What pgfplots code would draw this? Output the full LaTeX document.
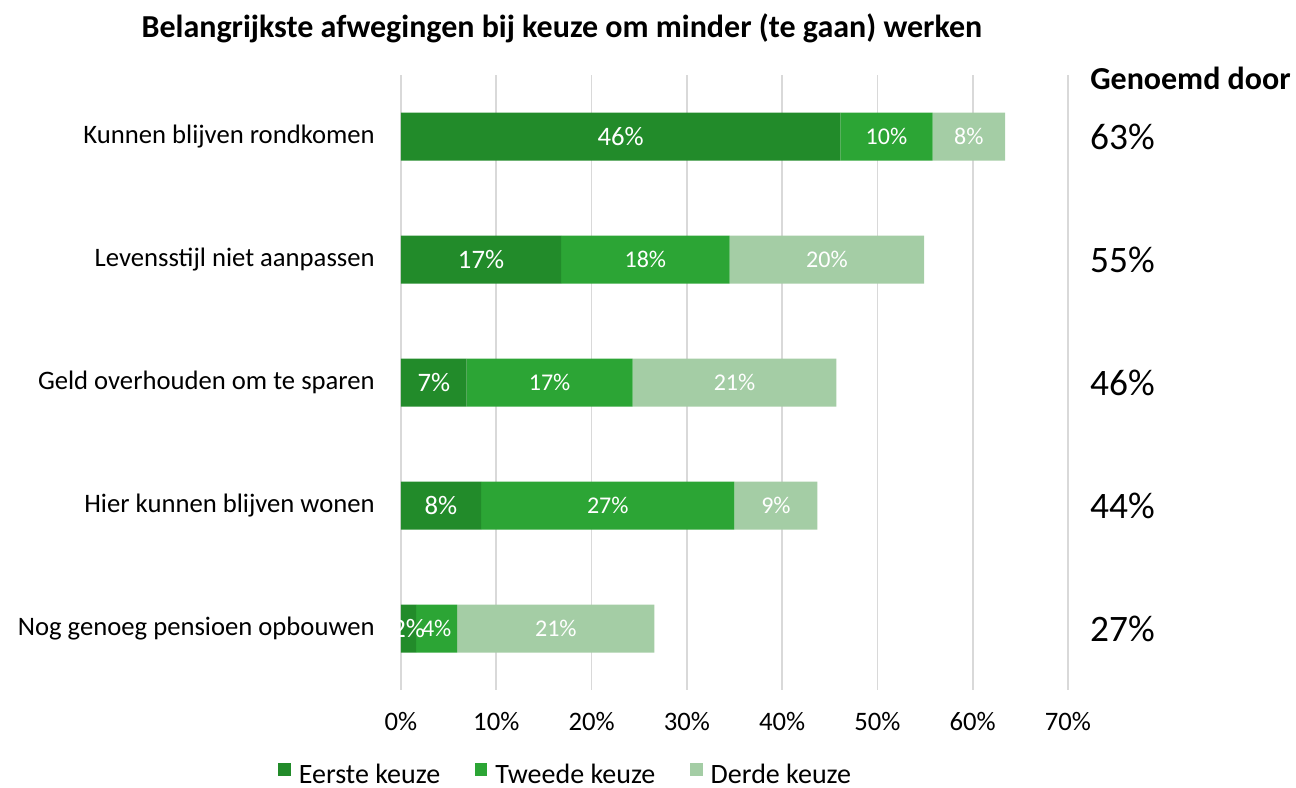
\documentclass[border=0pt]{standalone}
\usepackage{pgfplots}
\usepackage{pgfplotstable}
\usepackage{fontspec}
\setmainfont{Carlito}
\pgfplotsset{compat=1.18}
\definecolor{c1}{HTML}{228B2A}
\definecolor{c2}{HTML}{2CA535}
\definecolor{c3}{HTML}{A4CDA5}
\definecolor{gridc}{HTML}{D9D9D9}
\pgfplotstableread{
idx a b c
0 46.1 9.7 7.6
1 16.8 17.7 20.4
2 6.9 17.4 21.4
3 8.4 26.6 8.7
4 1.6 4.3 20.7
}\data
\pgfplotsset{
  seglabel/.style={
    point meta=explicit,
    nodes near coords={\pgfmathprintnumber[fixed,precision=0]{\pgfplotspointmeta}\%},
    every node near coord/.style={anchor=center, text=white, inner sep=0pt, font=#1}
  }
}
\begin{document}
\begin{tikzpicture}
\useasboundingbox (-300.75pt,-73.5pt) rectangle (671.25pt,517.5pt);
\begin{axis}[
  scale only axis, width=500.25pt, height=461.25pt,
  xbar stacked, bar width=36pt,
  xmin=0, xmax=70, ymin=-0.5, ymax=4.5, y dir=reverse,
  xtick={0,10,...,70}, xticklabel={\pgfmathprintnumber{\tick}\%},
  ytick={0,...,4},
  yticklabels={Kunnen blijven rondkomen, Levensstijl niet aanpassen, Geld overhouden om te sparen, Hier kunnen blijven wonen, Nog genoeg pensioen opbouwen},
  major tick length=0pt,
  axis line style={draw=none},
  xmajorgrids, grid style={gridc, line width=1.3pt},
  tick label style={font=\fontsize{20}{24}\selectfont},
  /pgf/number format/assume math mode=true,
  x tick label style={anchor=base, yshift=-30pt, inner sep=0pt},
  y tick label style={anchor=east, xshift=-19.5pt, inner sep=0pt},
  clip=false,
  legend columns=3,
  legend style={at={(0.2474,-0.1370)}, anchor=center, draw=none, fill=none,
    font=\fontsize{21}{25}\selectfont, inner sep=0pt,
    nodes={inner ysep=0pt},
    /tikz/every odd column/.append style={column sep=4pt},
    /tikz/every even column/.append style={column sep=24pt}},
  legend image code/.code={\fill[#1] (0pt,-0.5pt) rectangle (9.5pt,9pt);},
]
\addplot[fill=c1, draw=none, seglabel={\fontsize{20}{24}\selectfont}] table[x=a, y=idx, meta=a] {\data};
\addplot[fill=c2, draw=none, seglabel={\fontsize{18}{22}\selectfont}] table[x=b, y=idx, meta=b] {\data};
\addplot[fill=c3, draw=none, seglabel={\fontsize{18}{22}\selectfont}] table[x=c, y=idx, meta=c] {\data};
\legend{Eerste keuze, Tweede keuze, Derde keuze}
\node[anchor=west, inner sep=0pt, font=\fontsize{28}{33}\selectfont] at (axis cs:72.3,0) {63\%};
\node[anchor=west, inner sep=0pt, font=\fontsize{28}{33}\selectfont] at (axis cs:72.3,1) {55\%};
\node[anchor=west, inner sep=0pt, font=\fontsize{28}{33}\selectfont] at (axis cs:72.3,2) {46\%};
\node[anchor=west, inner sep=0pt, font=\fontsize{28}{33}\selectfont] at (axis cs:72.3,3) {44\%};
\node[anchor=west, inner sep=0pt, font=\fontsize{28}{33}\selectfont] at (axis cs:72.3,4) {27\%};
\end{axis}
\node[font=\bfseries\fontsize{24}{29}\selectfont] at (120.75pt,496.5pt) {Belangrijkste afwegingen bij keuze om minder (te gaan) werken};
\node[anchor=west, font=\bfseries\fontsize{24}{29}\selectfont, inner sep=0pt] at (516.75pt,459pt) {Genoemd door};
\end{tikzpicture}
\end{document}
